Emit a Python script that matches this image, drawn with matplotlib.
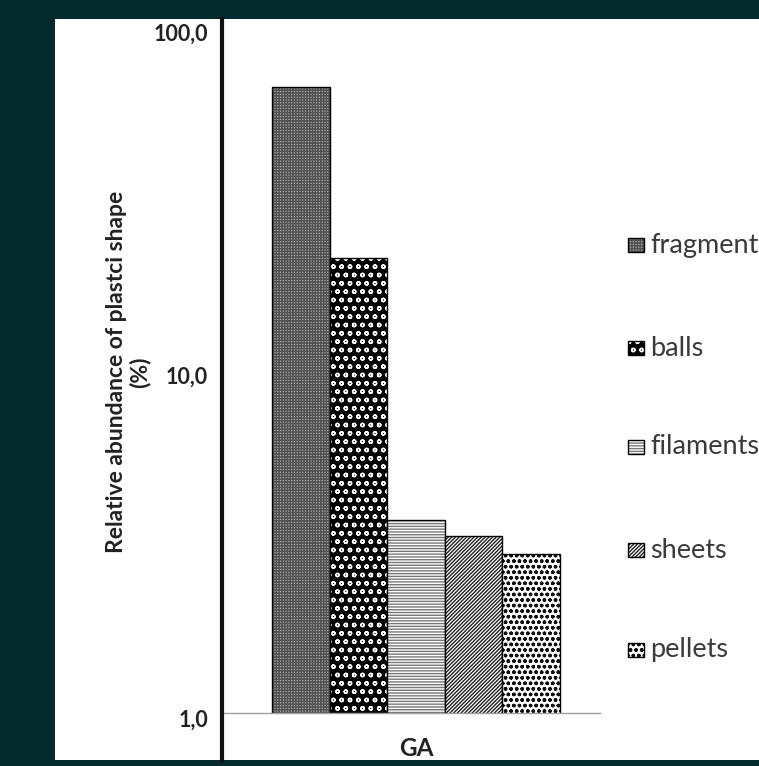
import matplotlib
matplotlib.use("Agg")
import matplotlib.pyplot as plt
from matplotlib.patches import Rectangle
from matplotlib.lines import Line2D
from matplotlib import transforms

# 数据
shapes = ["fragment", "balls", "filaments", "sheets", "pellets"]
abundance = [66.8, 21.2, 3.65, 3.28, 2.91]
site = "GA"
ytick_vals = [1, 10, 100]
ytick_labels = ["1,0", "10,0", "100,0"]

# 填充样式 (face, hatch colour, hatch)
styles = [
    ("#a8a8a8", "#505050", "++++++"),
    ("#000000", "#ffffff", "oo"),
    ("#ffffff", "#777777", "------"),
    ("#ffffff", "#222222", "/////////"),
    ("#ffffff", "#111111", "ooo"),
]

plt.rcParams["font.family"] = ["Lato", "DejaVu Sans"]
plt.rcParams["hatch.linewidth"] = 1.0

W, H = 759, 766
fig = plt.figure(figsize=(W / 100, H / 100), dpi=100, facecolor="#022a2c")

# 白色面板
fig.patches.append(Rectangle((55 / W, 1 - 760 / H), 1, (760 - 19) / H,
                             transform=fig.transFigure, facecolor="white",
                             edgecolor="none", zorder=-10))

ax_l, ax_r = 222, 600
ax_t, ax_b = 27, 713
ax = fig.add_axes([ax_l / W, 1 - ax_b / H, (ax_r - ax_l) / W, (ax_b - ax_t) / H])
ax.set_facecolor("none")
ax.set_zorder(5)

x = list(range(len(shapes)))
for xi, v, (face, hc, h) in zip(x, abundance, styles):
    ax.bar(xi, v, 1.0, facecolor=face, edgecolor=hc, hatch=h, linewidth=0)
    ax.bar(xi, v, 1.0, fill=False, edgecolor="black", linewidth=1.0)

ax.set_yscale("log")
ax.set_ylim(1, 100)
bar_px = (560 - 272) / 5
left_units = (272 - ax_l) / bar_px
ax.set_xlim(-0.5 - left_units, -0.5 - left_units + (ax_r - ax_l) / bar_px)

ax.set_yticks(ytick_vals)
ax.set_yticklabels(ytick_labels, fontsize=15.5, fontweight="bold", color="#222222")
ax.yaxis.set_minor_locator(matplotlib.ticker.NullLocator())
ax.tick_params(axis="y", length=0, pad=10)
off = transforms.ScaledTranslation(0, -5 / 100, fig.dpi_scale_trans)
for lab in ax.get_yticklabels():
    lab.set_transform(lab.get_transform() + off)

ax.set_xticks([sum(x) / len(x)])
ax.set_xticklabels([site], fontsize=17.5, fontweight="bold", color="#222222")
ax.tick_params(axis="x", length=0, pad=17)

for s in ["top", "right", "left"]:
    ax.spines[s].set_visible(False)
ax.spines["bottom"].set_color("#a0a0a0")
ax.spines["bottom"].set_linewidth(1.0)

# 左侧粗线
fig.add_artist(Line2D([222 / W, 222 / W], [1 - 19 / H, 1 - 760 / H],
                      transform=fig.transFigure, color="#111111", linewidth=3.0,
                      zorder=10))

# y 轴标题
fig.text(128 / W, 1 - 372 / H, "Relative abundance of plastci shape\n(%)",
         rotation=90, ha="center", va="center", fontsize=16.5, fontweight="bold",
         color="#222222", linespacing=1.1)

# 图例
legend_y = [245, 348, 447, 550, 650]
for name, yy, (face, hc, h) in zip(shapes, legend_y, styles):
    fig.patches.append(Rectangle((628 / W, 1 - (yy + 7) / H), 16 / W, 14 / H,
                                 transform=fig.transFigure, facecolor=face,
                                 edgecolor=hc, hatch=h, linewidth=0))
    fig.patches.append(Rectangle((628 / W, 1 - (yy + 7) / H), 16 / W, 14 / H,
                                 transform=fig.transFigure, fill=False,
                                 edgecolor="black", linewidth=1.0))
    fig.text(650 / W, 1 - yy / H, name, ha="left", va="center",
             fontsize=19.5, color="#3a3a3a")

plt.savefig("out.png", dpi=100, facecolor=fig.get_facecolor())
plt.close()
